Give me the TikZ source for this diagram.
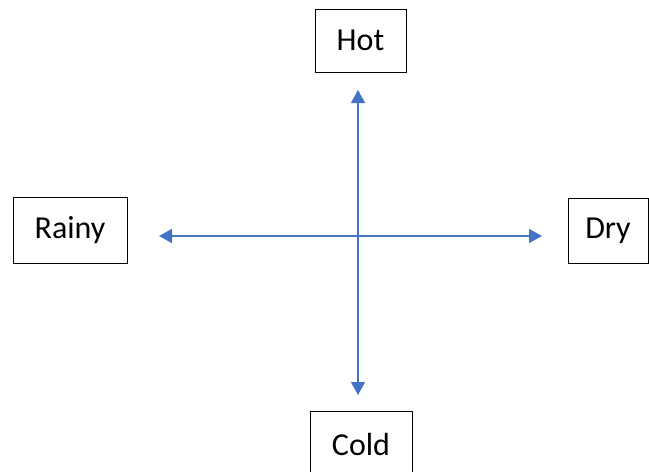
\documentclass[tikz,border=0pt]{standalone}
\usepackage{fontspec}
\setmainfont{Carlito}
\usetikzlibrary{arrows.meta}
\definecolor{arrowblue}{HTML}{4472C4}
\tikzset{
  box/.style={draw=black, line width=1pt, fill=white, inner sep=0pt, font=\fontsize{32}{36}\selectfont},
  axis/.style={draw=arrowblue, line width=1.3pt, {Triangle[length=13pt,width=14pt]}-{Triangle[length=13pt,width=14pt]}}
}
\begin{document}
\begin{tikzpicture}[x=1pt,y=-1pt]
\useasboundingbox (0,0) rectangle (649,472);
\node[box, minimum width=91pt, minimum height=63pt] (hot) at (360.5,40.5) {Hot};
\node[box, minimum width=114pt, minimum height=66pt] (rainy) at (70,230) {Rainy};
\node[box, minimum width=80pt, minimum height=65pt] (dry) at (608,230.5) {Dry};
\node[box, minimum width=102pt, minimum height=66pt] (cold) at (361,444) {Cold};
\coordinate (top) at (358,90);
\coordinate (bottom) at (358,395);
\coordinate (left) at (159,236);
\coordinate (right) at (542,236);
\draw[axis] (top) -- (bottom);
\draw[axis] (left) -- (right);
\end{tikzpicture}
\end{document}
